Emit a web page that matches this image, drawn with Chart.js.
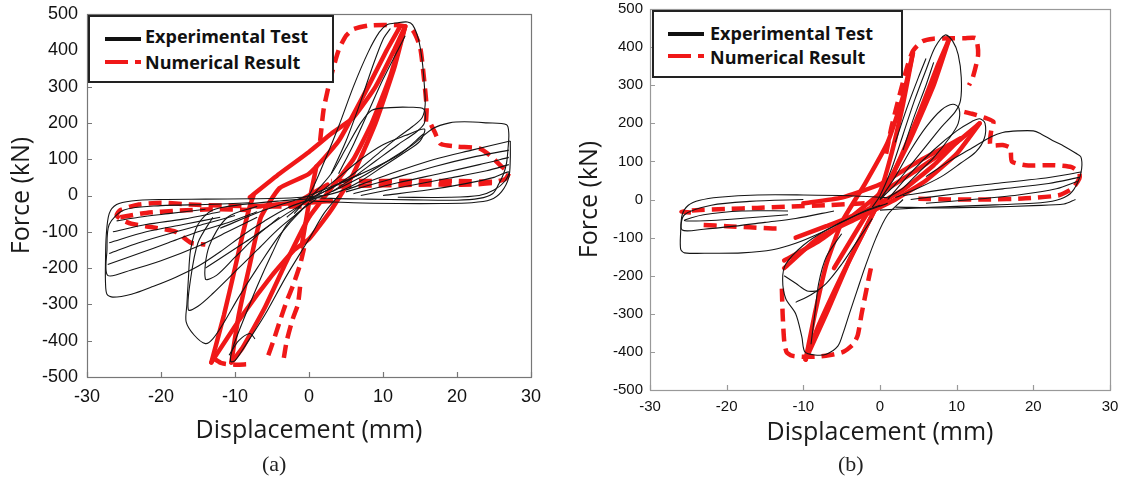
<!DOCTYPE html>
<html>
<head>
<meta charset="utf-8">
<script src="https://cdn.jsdelivr.net/npm/chart.js@4.4.1/dist/chart.umd.min.js"></script>
<style>
body { margin: 0; background: #fff; width: 1123px; height: 491px; overflow: hidden; position: relative; }
canvas { position: absolute; top: 0; }
#chartA { left: 0; }
#chartB { left: 560px; }
.legend { position: absolute; border: 2px solid #222; background: #fff; box-sizing: border-box; }
.legend .txt { position: absolute; font: bold 18px "Open Sans"; color: #111; white-space: nowrap; line-height: 20px; }
.legend .ln { position: absolute; height: 4px; }
.caption { position: absolute; font: 22px "Liberation Serif"; color: #222; }
</style>
</head>
<body>
<canvas id="chartA" width="560" height="491"></canvas>
<canvas id="chartB" width="563" height="491"></canvas>

<div class="legend" style="left:88px;top:15px;width:246px;height:68px">
  <div class="ln" style="left:15px;top:20px;width:36px;background:#111"></div>
  <div class="txt" style="left:55px;top:9px">Experimental Test</div>
  <div class="ln" style="left:15px;top:43px;width:23px;background:#f01818"></div>
  <div class="ln" style="left:45px;top:43px;width:6px;background:#f01818"></div>
  <div class="txt" style="left:55px;top:35px">Numerical Result</div>
</div>
<div class="legend" style="left:652px;top:10px;width:251px;height:68px">
  <div class="ln" style="left:14px;top:20px;width:36px;background:#111"></div>
  <div class="txt" style="left:56px;top:11px">Experimental Test</div>
  <div class="ln" style="left:14px;top:42px;width:23px;background:#f01818"></div>
  <div class="ln" style="left:44px;top:42px;width:6px;background:#f01818"></div>
  <div class="txt" style="left:56px;top:35px">Numerical Result</div>
</div>
<div class="caption" style="left:262px;top:451px">(a)</div>
<div class="caption" style="left:838px;top:451px">(b)</div>

<script>
// axes
var xTicks = [-30, -20, -10, 0, 10, 20, 30];
var yTicks = [-500, -400, -300, -200, -100, 0, 100, 200, 300, 400, 500];

// ---- (a) experimental test curves [displacement mm, force kN]
var expA1 = [[2,0],[-2,-6],[-8,-9],[-14,-10],[-20,-11],[-24,-15],[-26,-25],[-27,-50],[-27.4,-110],[-27.5,-180],[-27.5,-240],[-27.3,-272],[-26.5,-280],[-24,-272],[-21,-250],[-18,-225],[-15,-195],[-12,-155],[-9,-110],[-6,-70],[-3,-35],[0,-12]];
var expA2 = [[-8,-20],[-14,-25],[-20,-28],[-25,-40],[-27,-80],[-27.3,-150],[-27.2,-220],[-24,-205],[-20,-180],[-15,-140],[-11,-100],[-7,-60]];
var expA3 = [[-27.2,-190],[-23,-160],[-19,-130],[-15,-100],[-11,-75],[-7,-45]];
var expA4 = [[-27,-160],[-23,-130],[-18,-100],[-14,-78],[-10,-55]];
var expA5 = [[-27,-130],[-22,-100],[-17,-80],[-12,-60]];
var expA6 = [[-26.5,-100],[-22,-80],[-17,-65],[-12,-45]];
var expA7 = [[-26,-70],[-23,-60],[-19,-50],[-14,-38]];
var expA8 = [[1,-8],[-4,-15],[-9,-25],[-13,-40],[-15,-80],[-16,-150],[-16.3,-230],[-16.5,-300],[-16.6,-348],[-15.5,-385],[-14,-408],[-13,-395],[-11.5,-350],[-9.5,-280],[-7,-200],[-4,-110],[-1,-40],[1,-10]];
var expA9 = [[-13,-60],[-15,-130],[-16,-230],[-16.3,-315],[-15,-305],[-13,-270],[-10,-210],[-7,-150],[-4,-90],[-1,-40]];
var expA10 = [[-7,-30],[-11,-60],[-13.5,-140],[-14,-230],[-12.5,-220],[-10,-170],[-7,-110],[-4,-60]];
var expA11 = [[0,-20],[-3,-80],[-5,-160],[-7,-250],[-9,-350],[-10.3,-420],[-10.6,-457],[-10,-455],[-8.5,-410],[-6,-330],[-3,-220],[0,-120],[2,-50],[4,0]];
var expA12 = [[-10.8,-440],[-9.5,-400],[-8,-380],[-7.3,-395]];
var expA13 = [[-2,-50],[0,0],[2,90],[4,190],[6,300],[8,395],[9.5,450],[10.5,470],[12,476],[13.3,478],[14,470],[14.8,430],[15.3,370],[15.6,300],[15.7,250],[15.3,215],[14,190],[12,160],[9,110],[6,60],[3,20],[0,-10],[-3,-60]];
var expA14 = [[0,-10],[3,60],[5,130],[7,200],[8.5,235],[11,242],[13.5,243],[15.5,238],[15.6,200],[14.5,175],[12,140],[9,95],[6,50],[3,10],[0,-15]];
var expA15 = [[1,0],[4,50],[7,100],[10,140],[13,165],[15.6,183],[15,150],[13,120],[10,80],[7,40],[4,10],[1,-5]];
var expA16 = [[3,60],[5,150],[7,260],[8.5,350],[10,430],[11,460]];
var expA17 = [[4,60],[6,140],[8,230],[10,320],[12,400],[13,440]];
var expA18 = [[3,10],[7,50],[11,100],[14,140],[16.8,185],[19,200],[21,203],[24,200],[26.7,195],[27,170],[26.9,130],[26.7,90],[26.3,60],[25.6,30],[24.8,5],[23,-8],[20,-13],[14,-12],[8,-10],[3,-8],[0,-5]];
var expA19 = [[5,15],[11,60],[17,100],[22,125],[27.2,150]];
var expA20 = [[5,10],[11,45],[17,80],[22,105],[27,125]];
var expA21 = [[6,5],[12,35],[18,62],[23,85],[27,105]];
var expA22 = [[7,0],[13,25],[19,48],[24,68],[27,85]];
var expA23 = [[10,0],[16,15],[21,32],[25,50],[27,65],[26.5,40],[25,15],[23,0],[19,-5],[12,-5]];
var expA24 = [[0,-15],[6,-20],[12,-22],[18,-22],[22,-20],[24.5,-12],[26,10],[27,50],[27.2,100],[27.2,150]];
var expA25 = [[-12,-90],[-6,-40],[0,0],[6,50],[12,110],[15.5,170]];
var expA26 = [[-14,-200],[-8,-120],[-3,-50],[2,10],[7,60]];

// ---- (a) numerical result curves
var numDashA1 = [[1.5,150],[2,240],[3,330],[4,400],[5,440],[6,458],[8,468],[10,470],[12.5,468],[14,455],[15,410],[15.5,330],[15.9,242],[15.8,200]];
var numDashA2 = [[16.5,195],[17,174],[17.8,142],[20,135],[23,130],[24.5,110],[26,80],[27,62],[26.5,45],[25,38],[20,40],[14,40],[8,40],[3,40]];
var numDashA3 = [[4,25],[10,28],[16,30],[22,30],[25,35]];
var numDashA4 = [[-1,-30],[-6,-30],[-11,-28],[-16,-25],[-20,-20],[-23,-25],[-25.5,-40],[-26,-55],[-25,-70],[-24,-78],[-21,-88],[-18,-100],[-16,-130],[-14,-135]];
var numDashA5 = [[-25.5,-60],[-22,-48],[-18,-42],[-13,-38],[-8,-40]];
var numDashA6 = [[-12.8,-450],[-11.8,-462],[-10,-466],[-8.4,-465]];
var numDashA7 = [[-5.5,-440],[-4.8,-400],[-4,-350],[-3,-290],[-2.2,-250],[-1.2,-190],[-0.5,-130]];
var numDashA8 = [[-3.4,-447],[-3,-400],[-2.2,-340],[-1.5,-300],[-1.2,-250]];
var numA1 = [[-13.2,-460],[-11.5,-330],[-10,-200],[-9,-110],[-8,-30],[-7.5,0]];
var numA2 = [[-13.2,-460],[-9,-330],[-5,-220],[-2,-150],[0,-120],[3,-40],[6,60],[9,200],[11.5,350],[13,466]];
var numA3 = [[-8,-5],[-4,60],[0,120],[3,170],[6,215],[9,300],[11.5,400],[13,466]];
var numA4 = [[13,466],[11,330],[8.5,200],[6,100],[3,20],[0,-60],[-3,-180],[-6,-310],[-9,-420],[-10.5,-460]];
var numA5 = [[-10.5,-460],[-9.5,-330],[-8,-190],[-6.5,-60],[-4,20],[0,60],[4,150],[8,300],[10.5,400],[12.3,465]];
var numA6 = [[-2.5,-30],[0,0],[2.5,30]];
var numA7 = [[-1,-140],[0,-20],[1,80]];
var numA8 = [[-7,-30],[-3,-22],[0,-20],[3,-15]];

// ---- (b) experimental test curves
var expB1 = [[1,5],[-4,10],[-10,12],[-16,12],[-21,6],[-23.5,-2],[-25,-15],[-25.8,-40],[-26,-85],[-26,-130],[-25.5,-140],[-22,-141],[-18,-140],[-14,-132],[-11,-115],[-8,-90],[-5,-60],[-2,-30],[0,-15]];
var expB2 = [[-10,0],[-17,-5],[-22,-15],[-25.5,-40],[-25.8,-80],[-23,-78],[-19,-70],[-15,-60],[-11,-50],[-6,-30]];
var expB3 = [[-12,-30],[-18,-30],[-23,-40],[-25.5,-55],[-22,-55],[-17,-48],[-12,-40]];
var expB4 = [[1,-10],[-3,-40],[-7,-80],[-10,-120],[-12.3,-170],[-12.7,-210],[-12.3,-260],[-11,-300],[-10.2,-360],[-9.8,-400],[-8.5,-408],[-7,-406],[-5.5,-385],[-4.8,-350],[-4,-300],[-3,-240],[-2,-180],[-0.5,-100],[1,-40],[3,0]];
var expB5 = [[-9,-380],[-8.5,-300],[-8,-220],[-7,-150],[-5,-90]];
var expB6 = [[-11,-270],[-9,-250],[-7,-220],[-5,-170],[-3,-110],[-1,-50]];
var expB7 = [[-12.5,-200],[-11,-220],[-9.5,-240],[-8,-240]];
var expB8 = [[-1,-20],[0,10],[1.5,80],[3,170],[4.5,260],[6,340],[7.2,400],[8.5,432],[9.5,415],[10.2,380],[10.6,320],[10.5,260],[9.8,230],[8,190],[6,140],[4,90],[2,40],[0,0]];
var expB9 = [[0,0],[2,60],[4,130],[6,190],[8,235],[9.5,250],[10.3,240],[10.2,200],[9,160],[7,110],[5,70],[3,30],[1,5]];
var expB10 = [[1,0],[4,70],[7,130],[10,180],[12,205],[13,212],[13.7,200],[13.6,160],[12.5,125],[10.5,95],[8,60],[5,30],[2,5]];
var expB11 = [[2,150],[3.5,240],[5,320],[6,370]];
var expB12 = [[3,130],[4.5,220],[6,300],[7,360]];
var expB13 = [[6,60],[9,100],[12,135],[14.5,165],[16,176],[18,180],[20,180],[21,172],[22.5,155],[24,140],[25.5,122],[26.2,112],[26.3,80],[25.8,45],[24.8,15],[23,-2],[20,-10],[15,-14],[10,-18],[5,-22],[0,-28]];
var expB14 = [[3,10],[9,28],[15,42],[21,55],[26.3,72]];
var expB15 = [[4,0],[10,15],[16,28],[22,42],[26,58]];
var expB16 = [[6,-10],[12,0],[18,12],[23,28],[25.8,48]];
var expB17 = [[2,-20],[8,-22],[14,-20],[20,-16],[24,-12],[25.5,0]];

// ---- (b) numerical result curves
var numDashB1 = [[0.8,120],[1.5,190],[2.5,270],[3.5,345],[4.3,390],[5.5,415],[7,422],[9,423],[11,423],[12.5,423],[12.8,380],[12.1,320],[11.6,300]];
var numDashB2 = [[11,230],[12,225],[13.9,213],[14.8,204],[14.5,180],[14.4,143],[16,143],[17,135],[17.2,100],[19,90],[22.8,90],[25,85],[26,70],[26,55],[25.1,29],[23.3,11],[19,3],[14,0],[9,0],[5,2]];
var numDashB3 = [[-2,-10],[-7,-15],[-12,-19],[-16,-22],[-20,-25],[-24,-28],[-25.9,-32],[-24,-35]];
var numDashB4 = [[-23,-67],[-20,-70],[-17,-73],[-14,-76],[-12.8,-76]];
var numDashB5 = [[-12.8,-234],[-12.7,-300],[-12.5,-370],[-12.2,-400],[-11.5,-410],[-10,-413],[-8,-412],[-6.7,-409],[-4.8,-400],[-3.5,-380],[-2.9,-356],[-2.4,-300],[-2,-260],[-1.5,-210],[-1.1,-172]];
var numB1 = [[-9.7,-420],[-7,-300],[-4,-160],[-1,-40],[2,80],[5,220],[7.5,350],[9,420]];
var numB2 = [[9,420],[7,300],[4,160],[1,40],[-2,-80],[-5,-200],[-8,-330],[-9.7,-420]];
var numB3 = [[-9.7,-420],[-8.5,-300],[-7,-170],[-5,-60],[-2,40],[1,150],[3,270],[4.3,385]];
var numB4 = [[4.3,385],[3,250],[1.5,120],[0,20],[-3,-80],[-6,-180]];
var numB5 = [[-12.5,-160],[-8,-110],[-4,-50],[0,15],[5,80],[10,150],[13,200]];
var numB6 = [[13,200],[10,120],[6,50],[2,0],[-3,-50],[-8,-100],[-12.5,-180]];
var numB7 = [[-10,-10],[-5,5],[0,40],[5,100],[10.5,160]];
var numB8 = [[10.5,160],[7,90],[3,25],[-2,-30],[-7,-70],[-11,-100]];

var RED = '#f01818';

function toPts(c) { return c.map(function (p) { return { x: p[0], y: p[1] }; }); }

function curveSet(black, dashed, solid) {
  var ds = [];
  black.forEach(function (c) {
    ds.push({ data: toPts(c), showLine: true, borderColor: '#151515', borderWidth: 1.1, tension: 0.3, pointRadius: 0 });
  });
  dashed.forEach(function (c) {
    ds.push({ data: toPts(c), showLine: true, borderColor: RED, borderWidth: 4.5, borderDash: [13, 7], tension: 0.2, pointRadius: 0 });
  });
  solid.forEach(function (c) {
    ds.push({ data: toPts(c), showLine: true, borderColor: RED, borderWidth: 4.5, tension: 0.15, pointRadius: 0, borderJoinStyle: 'round', borderCapStyle: 'round' });
  });
  return ds;
}

// box round the plot, ticks pointing inward
var framePlugin = {
  id: 'frame',
  afterDatasetsDraw: function (chart, args, opts) {
    var ctx = chart.ctx, a = chart.chartArea, x = chart.scales.x, y = chart.scales.y;
    ctx.save();
    ctx.strokeStyle = opts.color;
    ctx.lineWidth = 1.2;
    ctx.strokeRect(a.left + 0.5, a.top + 0.5, a.right - a.left, a.bottom - a.top);
    ctx.beginPath();
    x.ticks.forEach(function (t) {
      var px = Math.round(x.getPixelForValue(t.value)) + 0.5;
      ctx.moveTo(px, a.bottom); ctx.lineTo(px, a.bottom - 5);
    });
    y.ticks.forEach(function (t) {
      var py = Math.round(y.getPixelForValue(t.value)) + 0.5;
      ctx.moveTo(a.left, py); ctx.lineTo(a.left + 5, py);
    });
    ctx.stroke();
    ctx.restore();
  }
};

function makeChart(id, datasets, p) {
  return new Chart(document.getElementById(id), {
    type: 'scatter',
    data: { datasets: datasets },
    plugins: [framePlugin],
    options: {
      responsive: false,
      animation: false,
      layout: { padding: { left: 0, top: p.top, right: p.right, bottom: 0 } },
      plugins: { legend: { display: false }, tooltip: { enabled: false }, frame: { color: p.frame } },
      scales: {
        x: {
          type: 'linear', min: xTicks[0], max: xTicks[xTicks.length - 1],
          afterBuildTicks: function (s) { s.ticks = xTicks.map(function (v) { return { value: v }; }); },
          grid: { display: false, drawTicks: false },
          border: { display: false },
          ticks: { font: { family: 'Liberation Sans', size: p.tickSize }, color: '#111', padding: p.xPad, maxRotation: 0 },
          title: { display: true, text: 'Displacement (mm)', color: '#1a1a1a', font: { family: 'Open Sans', size: 25 }, padding: { top: 0, bottom: p.xTitlePad } },
          afterFit: function (s) { s.height = p.xHeight; s.paddingLeft = 0; s.paddingRight = 0; }
        },
        y: {
          type: 'linear', min: yTicks[0], max: yTicks[yTicks.length - 1],
          afterBuildTicks: function (s) { s.ticks = yTicks.map(function (v) { return { value: v }; }); },
          grid: { display: false, drawTicks: false },
          border: { display: false },
          ticks: { font: { family: 'Liberation Sans', size: p.tickSize }, color: '#111', padding: p.yPad },
          title: { display: true, text: 'Force (kN)', color: '#1a1a1a', font: { family: 'Open Sans', size: 25 }, padding: { top: p.yTitlePad, bottom: 0 } },
          afterFit: function (s) { s.width = p.yWidth; s.paddingTop = 0; s.paddingBottom = 0; }
        }
      }
    }
  });
}

makeChart('chartA', curveSet(
  [expA1, expA2, expA3, expA4, expA5, expA6, expA7, expA8, expA9, expA10, expA11, expA12, expA13, expA14, expA15, expA16, expA17, expA18, expA19, expA20, expA21, expA22, expA23, expA24, expA25, expA26],
  [numDashA1, numDashA2, numDashA3, numDashA4, numDashA5, numDashA6, numDashA7, numDashA8],
  [numA1, numA2, numA3, numA4, numA5, numA6, numA7, numA8]
), { top: 14, right: 29, yWidth: 87, xHeight: 114, tickSize: 18, xPad: 9, yPad: 9, xTitlePad: 45, yTitlePad: 7, frame: '#777' });

makeChart('chartB', curveSet(
  [expB1, expB2, expB3, expB4, expB5, expB6, expB7, expB8, expB9, expB10, expB11, expB12, expB13, expB14, expB15, expB16, expB17],
  [numDashB1, numDashB2, numDashB3, numDashB4, numDashB5],
  [numB1, numB2, numB3, numB4, numB5, numB6, numB7, numB8]
), { top: 9, right: 13, yWidth: 90, xHeight: 101, tickSize: 15, xPad: 8, yPad: 7, xTitlePad: 43, yTitlePad: 15, frame: '#999' });
</script>
</body>
</html>
